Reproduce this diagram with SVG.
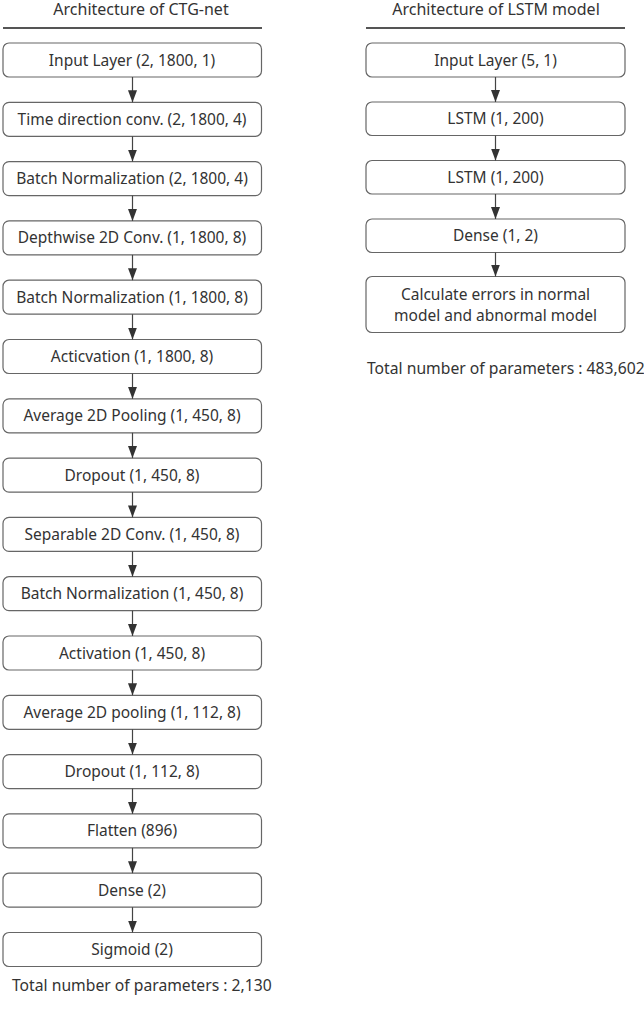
<svg xmlns="http://www.w3.org/2000/svg" width="644" height="1010" viewBox="0 0 644 1010">
<style>
  .bx{fill:#fff;stroke:#666;stroke-width:1.2}
  .t{font-family:"Noto Sans","Open Sans","DejaVu Sans",sans-serif;font-size:15.5px;fill:#333;text-anchor:middle}
  .ttl{font-family:"Noto Sans","Open Sans","DejaVu Sans",sans-serif;font-size:16px;fill:#333;text-anchor:middle}
  .tot{font-family:"Noto Sans","Open Sans","DejaVu Sans",sans-serif;font-size:15.7px;fill:#333}
  .hd{stroke:#555;stroke-width:2}
  .ln{stroke:#444;stroke-width:1.2;fill:none}
</style>
<defs>
  <marker id="ah" markerUnits="userSpaceOnUse" markerWidth="12" markerHeight="9" refX="12" refY="4.5" orient="auto" viewBox="0 0 12 9">
    <path d="M0,0 L12,4.5 L0,9 Z" fill="#333"/>
  </marker>
</defs>
<rect width="644" height="1010" fill="#fff"/>
<g id="titles">
  <text class="ttl" x="141" y="15">Architecture of CTG-net</text>
  <line class="hd" x1="3" y1="28" x2="262" y2="28"/>
  <text class="ttl" x="496" y="15">Architecture of LSTM model</text>
  <line class="hd" x1="366" y1="28" x2="625" y2="28"/>
</g>
<g id="ctg-nodes">
  <g id="c0"><rect class="bx" x="3" y="43" width="258.5" height="34" rx="6"/><text class="t" x="132" y="65.5">Input Layer (2, 1800, 1)</text></g>
  <g id="c1"><rect class="bx" x="3" y="102.3" width="258.5" height="34" rx="6"/><text class="t" x="132" y="124.8">Time direction conv. (2, 1800, 4)</text></g>
  <g id="c2"><rect class="bx" x="3" y="161.6" width="258.5" height="34" rx="6"/><text class="t" x="132" y="184.1">Batch Normalization (2, 1800, 4)</text></g>
  <g id="c3"><rect class="bx" x="3" y="220.9" width="258.5" height="34" rx="6"/><text class="t" x="132" y="243.4">Depthwise 2D Conv. (1, 1800, 8)</text></g>
  <g id="c4"><rect class="bx" x="3" y="280.2" width="258.5" height="34" rx="6"/><text class="t" x="132" y="302.7">Batch Normalization (1, 1800, 8)</text></g>
  <g id="c5"><rect class="bx" x="3" y="339.5" width="258.5" height="34" rx="6"/><text class="t" x="132" y="362">Acticvation (1, 1800, 8)</text></g>
  <g id="c6"><rect class="bx" x="3" y="398.8" width="258.5" height="34" rx="6"/><text class="t" x="132" y="421.3">Average 2D Pooling (1, 450, 8)</text></g>
  <g id="c7"><rect class="bx" x="3" y="458.1" width="258.5" height="34" rx="6"/><text class="t" x="132" y="480.6">Dropout (1, 450, 8)</text></g>
  <g id="c8"><rect class="bx" x="3" y="517.4" width="258.5" height="34" rx="6"/><text class="t" x="132" y="539.9">Separable 2D Conv. (1, 450, 8)</text></g>
  <g id="c9"><rect class="bx" x="3" y="576.7" width="258.5" height="34" rx="6"/><text class="t" x="132" y="599.2">Batch Normalization (1, 450, 8)</text></g>
  <g id="c10"><rect class="bx" x="3" y="636" width="258.5" height="34" rx="6"/><text class="t" x="132" y="658.5">Activation (1, 450, 8)</text></g>
  <g id="c11"><rect class="bx" x="3" y="695.3" width="258.5" height="34" rx="6"/><text class="t" x="132" y="717.8">Average 2D pooling (1, 112, 8)</text></g>
  <g id="c12"><rect class="bx" x="3" y="754.6" width="258.5" height="34" rx="6"/><text class="t" x="132" y="777.1">Dropout (1, 112, 8)</text></g>
  <g id="c13"><rect class="bx" x="3" y="813.9" width="258.5" height="34" rx="6"/><text class="t" x="132" y="836.4">Flatten (896)</text></g>
  <g id="c14"><rect class="bx" x="3" y="873.2" width="258.5" height="34" rx="6"/><text class="t" x="132" y="895.7">Dense (2)</text></g>
  <g id="c15"><rect class="bx" x="3" y="932.5" width="258.5" height="34" rx="6"/><text class="t" x="132" y="955">Sigmoid (2)</text></g>
  <text class="tot" x="12" y="991">Total number of parameters : 2,130</text>
</g>
<g id="lstm-nodes">
  <g id="l0"><rect class="bx" x="366" y="43" width="259" height="34" rx="6"/><text class="t" x="495.5" y="65.5">Input Layer (5, 1)</text></g>
  <g id="l1"><rect class="bx" x="366" y="102" width="259" height="33.5" rx="6"/><text class="t" x="495.5" y="124">LSTM (1, 200)</text></g>
  <g id="l2"><rect class="bx" x="366" y="160.5" width="259" height="33.5" rx="6"/><text class="t" x="495.5" y="182.5">LSTM (1, 200)</text></g>
  <g id="l3"><rect class="bx" x="366" y="219" width="259" height="33.5" rx="6"/><text class="t" x="495.5" y="241">Dense (1, 2)</text></g>
  <g id="l4"><rect class="bx" x="366" y="276.5" width="259" height="56" rx="6"/><text class="t" x="495.5" y="300">Calculate errors in normal</text><text class="t" x="495.5" y="321">model and abnormal model</text></g>
  <text class="tot" x="367" y="374">Total number of parameters : 483,602</text>
</g>
<g id="connectors">
  <line class="ln" x1="132.5" y1="77" x2="132.5" y2="102.3" marker-end="url(#ah)"/>
  <line class="ln" x1="132.5" y1="136.3" x2="132.5" y2="161.6" marker-end="url(#ah)"/>
  <line class="ln" x1="132.5" y1="195.6" x2="132.5" y2="220.9" marker-end="url(#ah)"/>
  <line class="ln" x1="132.5" y1="254.9" x2="132.5" y2="280.2" marker-end="url(#ah)"/>
  <line class="ln" x1="132.5" y1="314.2" x2="132.5" y2="339.5" marker-end="url(#ah)"/>
  <line class="ln" x1="132.5" y1="373.5" x2="132.5" y2="398.8" marker-end="url(#ah)"/>
  <line class="ln" x1="132.5" y1="432.8" x2="132.5" y2="458.1" marker-end="url(#ah)"/>
  <line class="ln" x1="132.5" y1="492.1" x2="132.5" y2="517.4" marker-end="url(#ah)"/>
  <line class="ln" x1="132.5" y1="551.4" x2="132.5" y2="576.7" marker-end="url(#ah)"/>
  <line class="ln" x1="132.5" y1="610.7" x2="132.5" y2="636" marker-end="url(#ah)"/>
  <line class="ln" x1="132.5" y1="670" x2="132.5" y2="695.3" marker-end="url(#ah)"/>
  <line class="ln" x1="132.5" y1="729.3" x2="132.5" y2="754.6" marker-end="url(#ah)"/>
  <line class="ln" x1="132.5" y1="788.6" x2="132.5" y2="813.9" marker-end="url(#ah)"/>
  <line class="ln" x1="132.5" y1="847.9" x2="132.5" y2="873.2" marker-end="url(#ah)"/>
  <line class="ln" x1="132.5" y1="907.2" x2="132.5" y2="932.5" marker-end="url(#ah)"/>
  <line class="ln" x1="495.5" y1="77" x2="495.5" y2="102" marker-end="url(#ah)"/>
  <line class="ln" x1="495.5" y1="135.5" x2="495.5" y2="160.5" marker-end="url(#ah)"/>
  <line class="ln" x1="495.5" y1="194" x2="495.5" y2="219" marker-end="url(#ah)"/>
  <line class="ln" x1="495.5" y1="252.5" x2="495.5" y2="276.5" marker-end="url(#ah)"/>
</g>
</svg>
